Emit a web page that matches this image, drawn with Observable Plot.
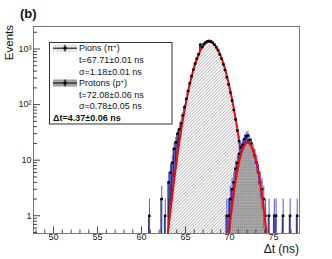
<!DOCTYPE html>
<html><head><meta charset="utf-8">
<script src="https://cdn.jsdelivr.net/npm/d3@7"></script>
<script src="https://cdn.jsdelivr.net/npm/@observablehq/plot@0.6"></script>
<style>
html,body{margin:0;padding:0;background:#fff;}
#chart{width:332px;height:259px;}
</style></head><body><div id="chart"></div>
<script>
// ---- data ----
const BIN = 0.2;
const pionX = [60.9, 62.3, 62.7, 63.1, 63.3, 63.5, 63.7, 63.9, 64.1, 64.3, 64.5, 64.7, 64.9, 65.1, 65.3, 65.5, 65.7, 65.9,
  66.1, 66.3, 66.5, 66.7, 66.9, 67.1, 67.3, 67.5, 67.7, 67.9, 68.1, 68.3, 68.5, 68.7, 68.9, 69.1, 69.3, 69.5,
  69.7, 69.9, 70.1, 70.3, 70.5, 70.7, 70.9, 71.1];
const pionN = [1, 2, 1, 4, 6, 9, 16, 21, 30, 36, 46, 64, 90, 127, 176, 242, 326, 425,
  548, 670, 805, 1200, 1085, 1230, 1320, 1375, 1395, 1360, 1295, 1190, 1070, 950, 800, 670, 530, 420,
  310, 230, 165, 118, 80, 54, 34, 22];
const protonX = [69.7, 69.9, 70.1, 70.3, 70.5, 70.7, 70.9, 71.1, 71.3, 71.5, 71.7, 71.9, 72.1, 72.3, 72.5, 72.7,
  72.9, 73.1, 73.3, 73.5, 73.7, 73.9, 74.1, 74.5, 75.1, 75.3, 76.1, 76.9, 77.7];
const protonN = [1, 1, 2, 3, 4, 7, 9, 13, 17, 19, 24, 27, 28, 23, 20, 15,
  12, 9, 6, 4, 3, 2, 1, 1, 1, 1, 1, 1, 1];
// fitted curves
const pionFitX = [63.0, 63.1, 63.3, 63.5, 63.7, 63.9, 64.1, 64.3, 64.5, 64.7, 64.9, 65.1, 65.3, 65.5, 65.7, 65.9,
  66.1, 66.3, 66.5, 66.7, 66.9, 67.1, 67.3, 67.5, 67.7, 67.9, 68.1, 68.3, 68.5, 68.7, 68.9, 69.1, 69.3, 69.5,
  69.7, 69.9, 70.1, 70.3, 70.5, 70.7, 70.9, 71.1, 71.3, 71.5, 71.7, 71.9, 72.1, 72.3, 72.42];
const pionFitY = [0.48, 0.67, 1.27, 2.36, 4.25, 7.46, 12.7, 21.1, 33.9, 53, 80.5, 118.7, 170, 237, 321, 423,
  540, 671, 810, 950, 1082, 1199, 1290, 1348, 1370, 1352, 1297, 1209, 1095, 963, 824, 685, 553, 434,
  331, 245, 176, 123, 83.7, 55.3, 35.5, 22, 13.4, 7.9, 4.5, 2.5, 1.35, 0.71, 0.48];
const protonFitX = [69.94, 70.1, 70.3, 70.5, 70.7, 70.9, 71.1, 71.3, 71.5, 71.7, 71.9, 72.08, 72.3, 72.5, 72.7,
  72.9, 73.1, 73.3, 73.5, 73.7, 73.9, 74.1, 74.22];
const protonFitY = [0.48, 0.83, 1.53, 2.66, 4.33, 6.6, 9.4, 12.6, 15.7, 18.4, 20.2, 20.7, 19.9, 17.9, 15.1,
  11.9, 8.8, 6.1, 3.95, 2.4, 1.36, 0.72, 0.48];
// axes
const xMajor = [50, 55, 60, 65, 70, 75];
const xMinor = [48, 49, 51, 52, 53, 54, 56, 57, 58, 59, 61, 62, 63, 64, 66, 67, 68, 69, 71, 72, 73, 74, 76, 77];
const yMajor = [1, 10, 100, 1000];
const yMajorLabels = ["1", "10", "10²", "10³"];
const yMinor = [0.5, 0.6, 0.7, 0.8, 0.9, 2, 3, 4, 5, 6, 7, 8, 9, 20, 30, 40, 50, 60, 70, 80, 90,
  200, 300, 400, 500, 600, 700, 800, 900, 2000];
// legend
const legendRows = [
  {name: "Pions (π", sup: "+", tail: ")"},
  {text: "t=67.71±0.01 ns"},
  {text: "σ=1.18±0.01 ns"},
  {name: "Protons (p", sup: "+", tail: ")"},
  {text: "t=72.08±0.06 ns"},
  {text: "σ=0.78±0.05 ns"},
  {bold: "Δt=4.37±0.06 ns"}
];

// ---- build ----
const pion = pionX.map((x, i) => ({x, n: pionN[i]}));
const proton = protonX.map((x, i) => ({x, n: protonN[i]}));
const all = pion.concat(proton);
const pionFit = pionFitX.map((x, i) => ({x, y: pionFitY[i]}));
const protonFit = protonFitX.map((x, i) => ({x, y: protonFitY[i]}));

const FONT = "'Liberation Sans', Arial, Helvetica, sans-serif";
const NAVY = "#2c2c70", ERR = "#5656cc", AX = "#444";
const W = 332, H = 259, ML = 33, MR = 33, MT = 26, MB = 26;
const FW = W - ML - MR, FH = H - MT - MB;
const yLo = 0.2;

const bars = (data) => Plot.rect(data, {x1: d => d.x - BIN / 2, x2: d => d.x + BIN / 2, y1: yLo, y2: "n", fill: NAVY, clip: true});

const plot = Plot.plot({
  width: W, height: H,
  marginLeft: ML, marginRight: MR, marginTop: MT, marginBottom: MB,
  x: {domain: [47.72, 77.96], axis: null},
  y: {type: "log", domain: [0.48, 2540], axis: null},
  style: {fontFamily: FONT, background: "white", overflow: "visible"},
  marks: [
    bars(pion),
    Plot.areaY(pionFit, {x: "x", y1: yLo, y2: "y", fill: "url(#hatch)", clip: true}),
    Plot.line(pionFit, {x: "x", y: "y", stroke: "#ff0000", strokeWidth: 2, clip: true}),
    bars(proton),
    Plot.areaY(protonFit, {x: "x", y1: yLo, y2: "y", fill: "url(#graydots)", clip: true}),
    Plot.ruleX(all, {x: "x", y1: d => Math.max(d.n - Math.sqrt(d.n), yLo), y2: d => d.n + Math.sqrt(d.n), stroke: ERR, strokeWidth: 1, clip: true}),
    Plot.ruleY(all, {y: "n", x1: d => d.x - BIN / 2, x2: d => d.x + BIN / 2, stroke: "black", strokeWidth: 1, clip: true}),
    Plot.dot(all, {x: "x", y: "n", symbol: "square", r: 1.4, fill: "black", stroke: null, clip: true}),
    Plot.line(protonFit, {x: "x", y: "y", stroke: "#ff0000", strokeWidth: 2, clip: true}),
    Plot.frame({stroke: "#7a7a7a", strokeWidth: 1}),
    Plot.tickX(xMajor, {x: d => d, insetTop: FH - 6.5, stroke: AX}),
    Plot.tickX(xMinor, {x: d => d, insetTop: FH - 3.5, stroke: AX}),
    Plot.tickY(yMajor, {y: d => d, insetRight: FW - 7, stroke: AX}),
    Plot.tickY(yMinor, {y: d => d, insetRight: FW - 4, stroke: AX}),
    Plot.text(xMajor, {x: d => d, text: d => String(d), frameAnchor: "bottom", dy: 6, fontSize: 9, fill: "#222"}),
    Plot.text(yMajor, {y: d => d, text: (d, i) => yMajorLabels[i], frameAnchor: "left", textAnchor: "end", dx: -2, fontSize: 9, fill: "#222"})
  ]
});

const svg = d3.select(plot);
const defs = svg.insert("defs", ":first-child");
const hp = defs.append("pattern").attr("id", "hatch").attr("patternUnits", "userSpaceOnUse")
  .attr("width", 2.3).attr("height", 2.3).attr("patternTransform", "rotate(45)");
hp.append("rect").attr("width", 2.3).attr("height", 2.3).attr("fill", "white");
hp.append("line").attr("x1", 0.5).attr("y1", 0).attr("x2", 0.5).attr("y2", 2.3).attr("stroke", "#b0b0b0").attr("stroke-width", 0.8);
const gp = defs.append("pattern").attr("id", "graydots").attr("patternUnits", "userSpaceOnUse")
  .attr("width", 2).attr("height", 3);
gp.append("rect").attr("width", 2).attr("height", 3).attr("fill", "#9c9c9c");
gp.append("rect").attr("x", 1).attr("y", 0).attr("width", 0.6).attr("height", 1.2).attr("fill", "#c4c4c4");

// panel label, axis titles
const ann = svg.append("g").attr("font-family", FONT).attr("fill", "#111").attr("text-anchor", "start");
ann.append("text").attr("x", 20).attr("y", 18).attr("font-size", 13)
  .attr("font-weight", "bold").text("(b)");
ann.append("text").attr("transform", "translate(13,25) rotate(-90)").attr("text-anchor", "end")
  .attr("font-size", 11.5).text("Events");
ann.append("text").attr("x", W - MR).attr("y", 253).attr("text-anchor", "end")
  .attr("font-size", 12).text("Δt (ns)");

// legend
const lg = svg.append("g").attr("font-family", FONT).attr("font-size", 9).attr("fill", "#111").attr("text-anchor", "start");
lg.append("rect").attr("x", 49.5).attr("y", 42.5).attr("width", 122.5).attr("height", 81.5)
  .attr("fill", "white").attr("stroke", "#333").attr("stroke-width", 1);
const rowH = 11.6, row0 = 48.2;
legendRows.forEach((r, i) => {
  const cy = row0 + i * rowH;
  if (r.name) {
    lg.append("rect").attr("x", 53).attr("y", cy - 3.5).attr("width", 24).attr("height", 7)
      .attr("fill", i === 0 ? "url(#hatch)" : "url(#graydots)");
    lg.append("line").attr("x1", 53).attr("x2", 77).attr("y1", cy).attr("y2", cy).attr("stroke", "black");
    lg.append("line").attr("x1", 65).attr("x2", 65).attr("y1", cy - 3.5).attr("y2", cy + 3.5).attr("stroke", "black");
    lg.append("rect").attr("x", 63.5).attr("y", cy - 1.5).attr("width", 3).attr("height", 3).attr("fill", "black");
    const t = lg.append("text").attr("x", 79).attr("y", cy + 3.2);
    t.append("tspan").text(r.name);
    t.append("tspan").attr("font-size", 6).attr("dy", -3.5).text(r.sup);
    t.append("tspan").attr("dy", 3.5).text(r.tail);
  } else if (r.text) {
    lg.append("text").attr("x", 79).attr("y", cy + 3.2).text(r.text);
  } else {
    lg.append("text").attr("x", 53).attr("y", cy + 3.2).attr("font-weight", "bold").text(r.bold);
  }
});

document.getElementById("chart").appendChild(plot);
</script></body></html>
